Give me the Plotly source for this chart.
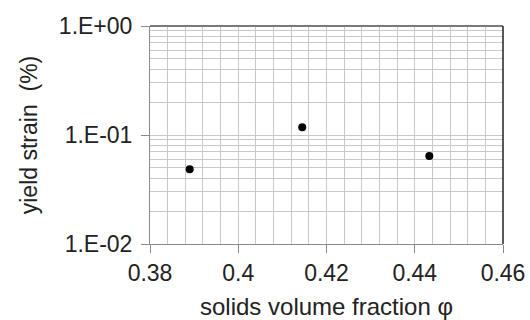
import plotly.graph_objects as go

phi = [0.389, 0.4145, 0.4433]
yield_strain = [0.0484, 0.1177, 0.0641]
x_ticks = [0.38, 0.40, 0.42, 0.44, 0.46]
x_tick_labels = ["0.38", "0.4", "0.42", "0.44", "0.46"]
y_ticks = [0.01, 0.1, 1]
y_tick_labels = ["1.E-02", "1.E-01", "1.E+00"]

grid = "#c8c8c8"
axis_col = "#8a8a8a"
font = "Liberation Sans, Arial, sans-serif"

fig = go.Figure()
fig.add_trace(go.Scatter(x=phi, y=yield_strain, mode="markers",
                         marker=dict(color="black", size=8), showlegend=False))

fig.update_layout(
    width=530, height=320,
    margin=dict(l=150, r=27, t=26, b=76),
    paper_bgcolor="white", plot_bgcolor="white",
    font=dict(family=font, size=23, color="#222"),
    xaxis=dict(range=[0.38, 0.46], tickvals=x_ticks, ticktext=x_tick_labels,
               showgrid=True, gridcolor=grid, gridwidth=1,
               minor=dict(dtick=0.004, showgrid=True, gridcolor=grid, gridwidth=1, tick0=0.38),
               showline=True, linecolor=axis_col, linewidth=1, mirror=False,
               ticks="outside", ticklen=8, tickcolor=axis_col, zeroline=False,
               ticklabelstandoff=0, automargin=False,
               title=dict(text="solids volume fraction φ", font=dict(size=24), standoff=13),
               tickfont=dict(size=23)),
    yaxis=dict(type="log", range=[-2, 0], tickvals=y_ticks, ticktext=y_tick_labels,
               showgrid=True, gridcolor=grid, gridwidth=1,
               minor=dict(dtick="D1", showgrid=True, gridcolor=grid, gridwidth=1),
               showline=True, linecolor=axis_col, linewidth=1,
               ticks="outside", ticklen=8, tickcolor=axis_col, zeroline=False,
               ticklabelstandoff=4, automargin=False,
               title=dict(text="yield strain  (%)", font=dict(size=23), standoff=14),
               tickfont=dict(size=23)),
)
fig.add_shape(type="line", xref="paper", yref="paper", x0=0, x1=1, y0=1, y1=1,
              line=dict(color="#7a7a7a", width=2))
fig.add_shape(type="line", xref="paper", yref="paper", x0=1, x1=1, y0=0, y1=1,
              line=dict(color="#222", width=1.5))
fig.write_html("out.html")
